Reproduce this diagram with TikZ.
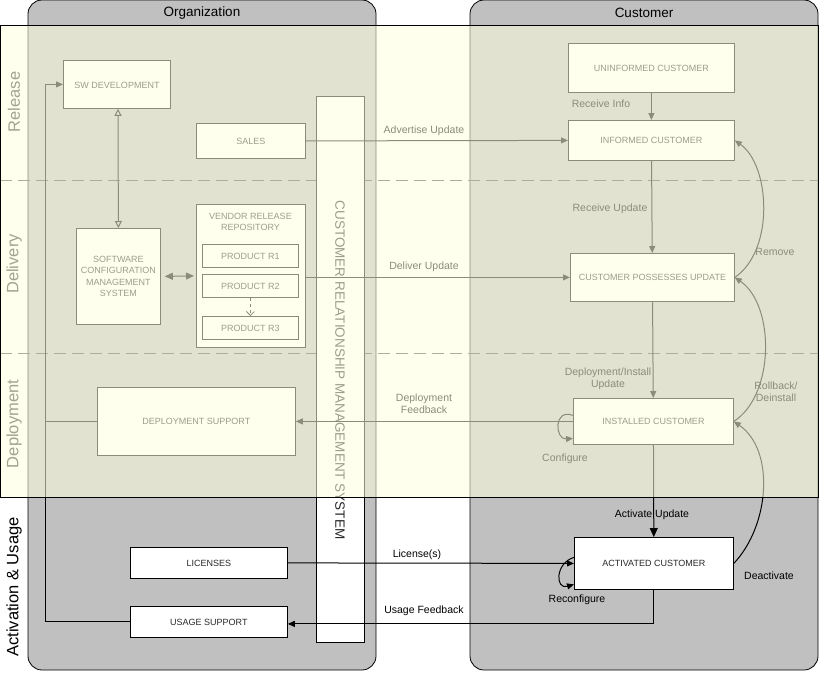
\documentclass[tikz,border=0pt]{standalone}
\usepackage{fontspec}
\setmainfont{Liberation Sans}
\usetikzlibrary{arrows.meta,calc}
\definecolor{lane}{RGB}{192,192,192}
\definecolor{ovl}{RGB}{255,255,224}
\definecolor{txt}{RGB}{40,40,40}
\begin{document}
\begin{tikzpicture}[x=1pt,y=-1pt,
  box/.style={draw=black,fill=white,line width=0.8pt,inner sep=0pt,align=center,font=\fontsize{9}{11.5}\selectfont,text=txt},
  lbl/.style={font=\fontsize{10.5}{12}\selectfont,align=center,text=black},
  ln/.style={draw=black,line width=1pt},
  arr/.style={ln,-{Triangle[length=7pt,width=6pt]}}]
\useasboundingbox (0,0) rectangle (819,673);
% lanes
\draw[fill=lane,line width=0.8pt,rounded corners=14pt] (28,670) rectangle (376,0);
\draw[fill=lane,line width=0.8pt,rounded corners=14pt] (470,670) rectangle (818,0);
\node[font=\fontsize{13.5}{15}\selectfont] (orgT) at (202,13) {Organization};
\node[font=\fontsize{13.5}{15}\selectfont] (cusT) at (644,13) {Customer};
% dashed separators
\draw[black!70,dash pattern=on 12pt off 6pt,line width=1pt] (0,180) -- (819,180);
\draw[black!70,dash pattern=on 12pt off 6pt,line width=1pt] (0,353) -- (819,353);
\draw[black!70,dash pattern=on 12pt off 6pt,line width=1pt] (0,497) -- (819,497);
% band labels
\node[rotate=90,font=\fontsize{16.5}{18}\selectfont,text=black!80] (rel) at (14,102) {Release};
\node[rotate=90,font=\fontsize{16.5}{18}\selectfont,text=black!80] (del) at (14,264) {Delivery};
\node[rotate=90,font=\fontsize{16.5}{18}\selectfont,text=black!80] (dep) at (14,424) {Deployment};
\node[rotate=90,font=\fontsize{16.5}{18}\selectfont] (act) at (14,587) {Activation \& Usage};
% CRM bar
\node[box,minimum width=48pt,minimum height=546pt,anchor=north west] (crm) at (316,96) {};
\node[rotate=-90,font=\fontsize{13.5}{15}\selectfont,text=txt] (crmT) at (340,370) {CUSTOMER RELATIONSHIP MANAGEMENT SYSTEM};
% org boxes
\node[box,minimum width=107pt,minimum height=48pt,anchor=north west] (sw) at (63,60) {};
\node[font=\fontsize{9}{11.5}\selectfont,text=txt] (swT) at (117,85) {SW DEVELOPMENT};
\node[box,minimum width=109pt,minimum height=35pt,anchor=north west] (sales) at (196,123) {SALES};
\node[box,minimum width=84pt,minimum height=96pt,anchor=north west] (scm) at (76,228) {SOFTWARE\\CONFIGURATION\\MANAGEMENT\\SYSTEM};
\node[box,minimum width=109pt,minimum height=143pt,anchor=north west] (repo) at (196,204) {};
\node[font=\fontsize{9}{11.5}\selectfont,text=txt,align=center] (repoT) at (250.5,222) {VENDOR RELEASE\\REPOSITORY};
\node[box,minimum width=96pt,minimum height=23pt,anchor=north west] (r1) at (202,244) {PRODUCT R1};
\node[box,minimum width=96pt,minimum height=23pt,anchor=north west] (r2) at (202,274) {PRODUCT R2};
\node[box,minimum width=96pt,minimum height=23pt,anchor=north west] (r3) at (202,316) {PRODUCT R3};
\node[box,minimum width=198pt,minimum height=68pt,anchor=north west] (dsup) at (97,387) {DEPLOYMENT SUPPORT};
\node[box,minimum width=157pt,minimum height=31pt,anchor=north west] (lic) at (130,547) {LICENSES};
\node[box,minimum width=157pt,minimum height=31pt,anchor=north west] (usup) at (130,606) {USAGE SUPPORT};
% customer boxes
\node[box,minimum width=166pt,minimum height=49pt,anchor=north west] (unin) at (568,43) {UNINFORMED CUSTOMER};
\node[box,minimum width=166pt,minimum height=40pt,anchor=north west] (inf) at (568,120) {INFORMED CUSTOMER};
\node[box,minimum width=164pt,minimum height=48pt,anchor=north west] (poss) at (570,253) {CUSTOMER POSSESSES UPDATE};
\node[box,minimum width=160pt,minimum height=46pt,anchor=north west] (inst) at (573,398) {INSTALLED CUSTOMER};
\node[box,minimum width=159pt,minimum height=52pt,anchor=north west] (actc) at (574,537) {ACTIVATED CUSTOMER};
\coordinate (loopx) at (45,0);
% connectors
\draw[arr] (unin) -- (inf);
\node[lbl] (riT) at (601,104) {Receive Info};
\draw[arr] (sales.east) -- (inf.west);
\node[lbl] (auT) at (424,131) {Advertise Update};
\draw[arr] (inf) -- (poss);
\node[lbl] (ruT) at (610,209) {Receive Update};
\draw[arr] (poss.west -| repo.east) -- (poss.west);
\node[lbl] (duT) at (424,267) {Deliver Update};
\draw[arr] (poss) -- (inst);
\node[lbl] (diT) at (608,379) {Deployment/Install\\Update};
\draw[arr] (inst.west) -- (dsup.east);
\node[lbl] (dfT) at (424,404) {Deployment\\Feedback};
\draw[ln,-{Triangle[length=9pt,width=8pt]}] (inst) -- (actc);
\node[lbl] (auT2) at (652,515) {Activate Update};
\draw[arr] (lic.east) -- (actc.west);
\node[lbl] (liT) at (417,555) {License(s)};
\draw[arr] (actc.south) |- ($(usup.east)+(0,2)$);
\node[lbl] (ufT) at (424,611) {Usage Feedback};
\draw[arr] (usup.west) -| (sw.west -| loopx) -- (sw.west);
\draw[ln] (dsup.west) -- (dsup.west -| loopx);
\draw[ln,{Triangle[open,length=7pt,width=7pt]}-{Triangle[open,length=7pt,width=7pt]}] (sw.south -| 118,0) -- (scm.north);
\draw[ln,{Triangle[length=8pt,width=7pt]}-{Triangle[length=8pt,width=7pt]}] ($(scm.east)+(4,0)$) -- ($(repo.west)+(-2,0)$);
\draw[line width=0.8pt,dashed,-{Straight Barb[length=4pt,width=8pt]}] (r2) -- (r3);
% curves
\draw[arr] (poss.east) .. controls (775,250) and (770,165) .. (inf.east);
\node[lbl] (remT) at (775,252) {Remove};
\draw[arr] (inst.east) .. controls (775,395) and (775,305) .. (poss.east);
\node[lbl] (rbT) at (776,392) {Rollback/\\Deinstall};
\draw[arr] (actc.east) .. controls (770,525) and (775,450) .. (inst.east);
\node[lbl] (deT) at (769,576) {Deactivate};
\draw[arr] ($(inst.west)+(0,-6)$) .. controls (553,408) and (555,440) .. ($(inst.west)+(0,17)$);
\node[lbl] (cfT) at (565,459) {Configure};
\draw[arr] ($(actc.west)+(0,-6)$) .. controls (555,563) and (555,590) .. ($(actc.west)+(0,21)$);
\node[lbl] (rcT) at (577,600) {Reconfigure};
% translucent overlay of release/delivery/deployment band
\fill[ovl,opacity=0.55] (0,25) rectangle (819,497);
\draw[line width=0.8pt] (0.4,25) rectangle (818.6,497);
\end{tikzpicture}
\end{document}
